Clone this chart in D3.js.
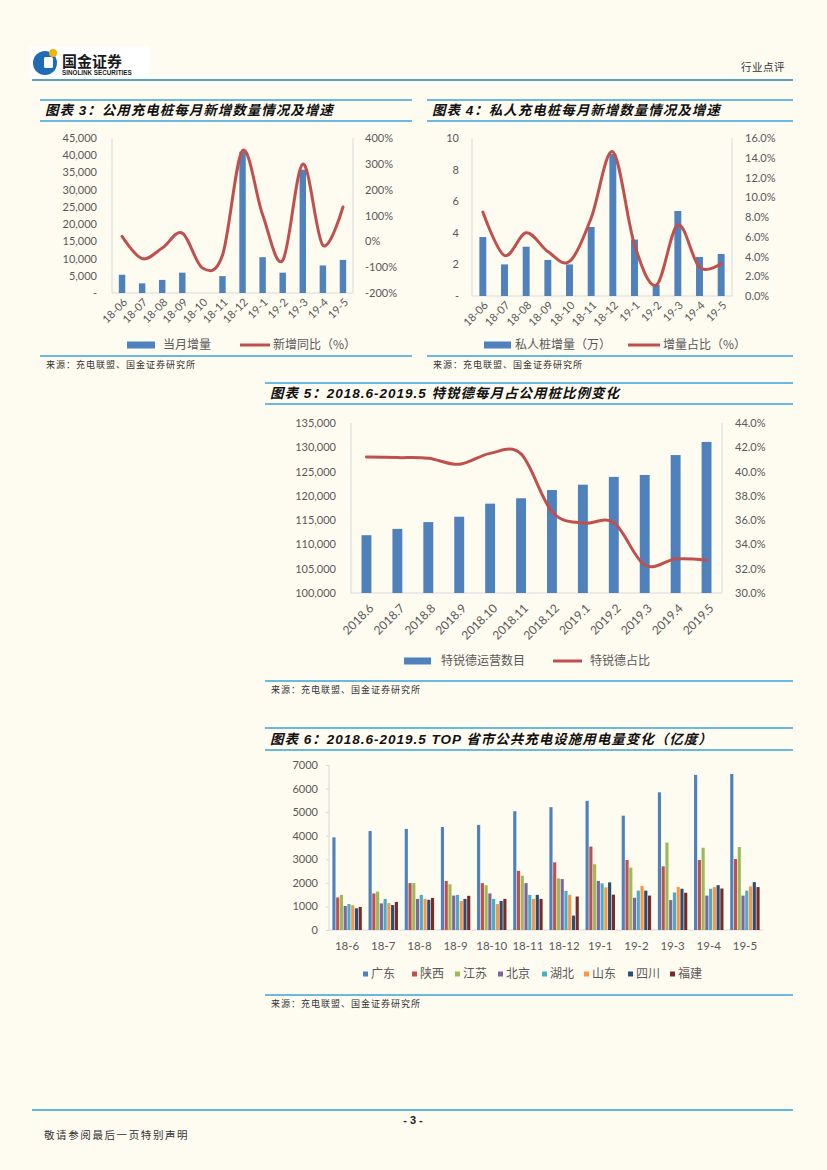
<!DOCTYPE html>
<html>
<head>
<meta charset="utf-8">
<script src="https://cdn.jsdelivr.net/npm/d3@7"></script>
<style>
  body { margin: 0; background: #fefbf1; }
  svg { display: block; }
  text { font-family: Lato, "Noto Sans CJK SC", sans-serif; }
</style>
</head>
<body>
<div id="page"></div>
<script>
// ---------- data ----------
var months = ["18-06", "18-07", "18-08", "18-09", "18-10", "18-11", "18-12", "19-1", "19-2", "19-3", "19-4", "19-5"];
var monthsShort = ["18-6", "18-7", "18-8", "18-9", "18-10", "18-11", "18-12", "19-1", "19-2", "19-3", "19-4", "19-5"];
var monthsLong = ["2018.6", "2018.7", "2018.8", "2018.9", "2018.10", "2018.11", "2018.12", "2019.1", "2019.2", "2019.3", "2019.4", "2019.5"];

// chart 3: public piles
var publicNew = [5300, 2800, 3800, 5900, 0, 4900, 41000, 10400, 5900, 35800, 8000, 9600];
var publicYoY = [19, -67, -26, 32, -103, -54, 351, 103, -74, 299, -15, 133];
var ticks3L = [0, 5000, 10000, 15000, 20000, 25000, 30000, 35000, 40000, 45000];
var ticks3R = [-200, -100, 0, 100, 200, 300, 400];

// chart 4: private piles (10k)
var privateNew = [3.73, 2.0, 3.12, 2.28, 2.0, 4.37, 9.0, 3.57, 0.7, 5.38, 2.47, 2.66];
var privateShare = [8.5, 4.1, 6.4, 4.5, 3.5, 7.9, 14.6, 5.2, 1.1, 7.2, 2.9, 3.3];
var ticks4L = [0, 2, 4, 6, 8, 10];
var ticks4R = [0, 2, 4, 6, 8, 10, 12, 14, 16];

// chart 5: TELD
var teldCount = [111900, 113200, 114600, 115700, 118400, 119500, 121200, 122300, 123900, 124300, 128400, 131100];
var teldShare = [41.2, 41.15, 41.1, 40.6, 41.5, 41.45, 36.7, 35.75, 35.8, 32.3, 32.8, 32.7];
var ticks5L = [100000, 105000, 110000, 115000, 120000, 125000, 130000, 135000];
var ticks5R = [30, 32, 34, 36, 38, 40, 42, 44];

// chart 6: power use by province
var provinces = ["广东", "陕西", "江苏", "北京", "湖北", "山东", "四川", "福建"];
var guangdong = [3930, 4200, 4290, 4370, 4460, 5040, 5210, 5480, 4850, 5840, 6580, 6620];
var shaanxi   = [1380, 1550, 1990, 2080, 1990, 2510, 2870, 3540, 2970, 2700, 2970, 3010];
var jiangsu   = [1490, 1630, 1990, 1940, 1900, 2300, 2190, 2790, 2650, 3710, 3490, 3520];
var beijing   = [1020, 1130, 1320, 1460, 1550, 1990, 2160, 2080, 1370, 1270, 1460, 1460];
var hubei     = [1100, 1320, 1490, 1490, 1320, 1490, 1660, 1980, 1670, 1590, 1750, 1670];
var shandong  = [1050, 1140, 1320, 1230, 1100, 1320, 1490, 1810, 1870, 1820, 1820, 1850];
var sichuan   = [920, 1060, 1280, 1320, 1230, 1490, 610, 2020, 1670, 1750, 1900, 2030];
var fujian    = [980, 1190, 1360, 1450, 1320, 1320, 1420, 1500, 1460, 1580, 1760, 1820];
var ticks6 = [0, 1000, 2000, 3000, 4000, 5000, 6000, 7000];

var BLUE = "#4f81bd", RED = "#c0504d", GRAY = "#595959", AXIS = "#d9d9d9", RULE = "#3aa3da";
var provColors = ["#4f81bd", "#c0504d", "#9bbb59", "#8064a2", "#4bacc6", "#f79646", "#2c4d75", "#772c2a"];

var svg = d3.select("#page").append("svg")
    .attr("width", 827)
    .attr("height", 1170);

svg.append("rect").attr("width", 827).attr("height", 1170).attr("fill", "#fefbf1");

// ---------- header ----------
svg.append("rect").attr("x", 30).attr("y", 46).attr("width", 120).attr("height", 32).attr("fill", "#ffffff");
svg.append("circle").attr("cx", 45).attr("cy", 63).attr("r", 12).attr("fill", "#1e6db4");
svg.append("rect").attr("x", 44).attr("y", 57).attr("width", 9).attr("height", 11).attr("rx", 1.5).attr("fill", "#ffffff");
svg.append("circle").attr("cx", 53).attr("cy", 53).attr("r", 4).attr("fill", "#f4b400");
svg.append("text").attr("x", 62).attr("y", 67).attr("font-size", 15).attr("font-weight", 700)
    .attr("fill", "#1a1a1a").style("font-family", "'Noto Sans CJK SC'").text("国金证券");
svg.append("text").attr("x", 62).attr("y", 75).attr("font-size", 6.3).attr("font-weight", 700)
    .attr("fill", "#1a1a1a").style("font-family", "'Liberation Sans'").text("SINOLINK SECURITIES");
svg.append("text").attr("x", 785).attr("y", 71).attr("text-anchor", "end").attr("font-size", 10.5)
    .attr("letter-spacing", 0.5).attr("fill", "#333").style("font-family", "'Noto Sans CJK SC'").text("行业点评");
svg.append("line").attr("x1", 32).attr("x2", 793).attr("y1", 80).attr("y2", 80)
    .attr("stroke", "#5a9fc6").attr("stroke-width", 2);

// ---------- footer ----------
svg.append("line").attr("x1", 32).attr("x2", 793).attr("y1", 1110).attr("y2", 1110)
    .attr("stroke", "#2d9fe0").attr("stroke-width", 1.5);
svg.append("text").attr("x", 413).attr("y", 1124).attr("text-anchor", "middle").attr("font-size", 11)
    .attr("font-weight", 700).attr("fill", "#222").style("font-family", "'Liberation Sans Narrow','Liberation Sans'").text("- 3 -");
svg.append("text").attr("x", 44).attr("y", 1139).attr("font-size", 10.5).attr("letter-spacing", 1.6)
    .attr("fill", "#333").style("font-family", "'Noto Sans CJK SC'").text("敬请参阅最后一页特别声明");

// ---------- frames: rules, title, source ----------
function frame(x0, x1, yTop, yMid, yBottom, title) {
  svg.append("line").attr("x1", x0).attr("x2", x1).attr("y1", yTop).attr("y2", yTop)
      .attr("stroke", RULE).attr("stroke-width", 1.6);
  svg.append("line").attr("x1", x0).attr("x2", x1).attr("y1", yMid).attr("y2", yMid)
      .attr("stroke", RULE).attr("stroke-width", 1.6);
  svg.append("line").attr("x1", x0).attr("x2", x1).attr("y1", yBottom).attr("y2", yBottom)
      .attr("stroke", RULE).attr("stroke-width", 1.6);
  svg.append("text").attr("x", x0 + 5).attr("y", yMid - 6)
      .attr("font-size", 13.5).attr("font-weight", 700).attr("font-style", "italic")
      .attr("letter-spacing", 1).attr("fill", "#111")
      .style("font-family", "'Liberation Sans','Noto Sans CJK SC'")
      .text(title);
  svg.append("text").attr("x", x0 + 6).attr("y", yBottom + 12)
      .attr("font-size", 9).attr("letter-spacing", 1).attr("fill", "#333")
      .style("font-family", "'Noto Sans CJK SC'")
      .text("来源：充电联盟、国金证券研究所");
}

frame(40, 412, 100, 121, 356, "图表 3：公用充电桩每月新增数量情况及增速");
frame(427, 793, 100, 121, 356, "图表 4：私人充电桩每月新增数量情况及增速");
frame(265, 793, 383, 404, 681, "图表 5：2018.6-2019.5 特锐德每月占公用桩比例变化");
frame(265, 793, 728, 750, 995, "图表 6：2018.6-2019.5 TOP 省市公共充电设施用电量变化（亿度）");

// ---------- bar + line combo ----------
function combo(o) {
  var g = svg.append("g");

  var x = d3.scaleBand().domain(o.cats).range([o.left, o.right])
      .paddingInner(0.68).paddingOuter(0.34);
  var yL = d3.scaleLinear().domain(o.domL).range([o.bottom, o.top]);
  var yR = d3.scaleLinear().domain(o.domR).range([o.bottom, o.top]);

  // axis frame lines
  g.append("line").attr("x1", o.left).attr("x2", o.left).attr("y1", o.top).attr("y2", o.bottom)
      .attr("stroke", AXIS);
  g.append("line").attr("x1", o.right).attr("x2", o.right).attr("y1", o.top).attr("y2", o.bottom)
      .attr("stroke", AXIS);
  g.append("line").attr("x1", o.left).attr("x2", o.right).attr("y1", o.bottom).attr("y2", o.bottom)
      .attr("stroke", AXIS);

  // left axis labels
  var al = g.append("g").attr("transform", "translate(" + o.left + ",0)")
      .call(d3.axisLeft(yL).tickValues(o.ticksL).tickFormat(o.fmtL).tickSize(0).tickPadding(o.left - o.labL));
  var ar = g.append("g").attr("transform", "translate(" + o.right + ",0)")
      .call(d3.axisRight(yR).tickValues(o.ticksR).tickFormat(o.fmtR).tickSize(0).tickPadding(o.labR - o.right));
  [al, ar].forEach(function(a) {
    a.select(".domain").remove();
    a.selectAll("text").attr("font-size", 11).attr("fill", GRAY).style("font-family", "Lato");
  });

  // x labels (rotated)
  var ax = g.append("g").attr("transform", "translate(0," + o.bottom + ")")
      .call(d3.axisBottom(x).tickSize(0));
  ax.select(".domain").remove();
  ax.selectAll("text")
      .attr("font-size", o.xfs).attr("fill", GRAY).style("font-family", "Lato")
      .attr("text-anchor", "end")
      .attr("dy", null).attr("y", 0)
      .attr("transform", "translate(" + o.xdx + "," + o.xdy + ") rotate(-45)");

  // bars
  g.selectAll(".bar").data(o.bars).enter().append("rect")
      .attr("x", function(d, i) { return x(o.cats[i]); })
      .attr("width", x.bandwidth())
      .attr("y", function(d) { return yL(d); })
      .attr("height", function(d) { return yL(o.domL[0]) - yL(d); })
      .attr("fill", BLUE);

  // smooth line
  var line = d3.line()
      .x(function(d, i) { return x(o.cats[i]) + x.bandwidth() / 2; })
      .y(function(d) { return yR(d); })
      .curve(d3.curveCardinal.tension(0));
  g.append("path").datum(o.line).attr("d", line)
      .attr("fill", "none").attr("stroke", RED).attr("stroke-width", 3)
      .attr("stroke-linecap", "round");

  // legend
  var lg = o.legend;
  g.append("rect").attr("x", lg.bx).attr("y", lg.y - 3.5).attr("width", lg.bw).attr("height", 7).attr("fill", BLUE);
  g.append("text").attr("x", lg.btx).attr("y", lg.y).attr("dy", "0.35em").attr("font-size", 12)
      .attr("fill", GRAY).style("font-family", "'Noto Sans CJK SC'").text(lg.bText);
  g.append("line").attr("x1", lg.lx).attr("x2", lg.lx + lg.lw).attr("y1", lg.y).attr("y2", lg.y)
      .attr("stroke", RED).attr("stroke-width", 3);
  g.append("text").attr("x", lg.ltx).attr("y", lg.y).attr("dy", "0.35em").attr("font-size", 12)
      .attr("fill", GRAY).style("font-family", "'Noto Sans CJK SC'").text(lg.lText);
}

var dashZero = function(f) { return function(d) { return d === 0 ? "-" : f(d); }; };

combo({
  cats: months, bars: publicNew, line: publicYoY,
  left: 112, right: 353, top: 138, bottom: 293,
  domL: [0, 45000], domR: [-200, 400], ticksL: ticks3L, ticksR: ticks3R,
  fmtL: dashZero(d3.format(",")), fmtR: function(d) { return d + "%"; },
  labL: 97, labR: 365, xdx: 6, xdy: 10, xfs: 11,
  legend: { y: 345, bx: 127, bw: 28, btx: 163, bText: "当月增量", lx: 240, lw: 30, ltx: 273, lText: "新增同比（%）" }
});

combo({
  cats: months, bars: privateNew, line: privateShare,
  left: 472, right: 732, top: 138, bottom: 296,
  domL: [0, 10], domR: [0, 16], ticksL: ticks4L, ticksR: ticks4R,
  fmtL: dashZero(d3.format("d")), fmtR: function(d) { return d.toFixed(1) + "%"; },
  labL: 459, labR: 745, xdx: 6, xdy: 10, xfs: 11,
  legend: { y: 345, bx: 484, bw: 27, btx: 515, bText: "私人桩增量（万）", lx: 628, lw: 32, ltx: 663, lText: "增量占比（%）" }
});

combo({
  cats: monthsLong, bars: teldCount, line: teldShare,
  left: 351, right: 722, top: 423, bottom: 593,
  domL: [100000, 135000], domR: [30, 44], ticksL: ticks5L, ticksR: ticks5R,
  fmtL: d3.format(","), fmtR: function(d) { return d.toFixed(1) + "%"; },
  labL: 336, labR: 735, xdx: 8, xdy: 16, xfs: 12,
  legend: { y: 661, bx: 404, bw: 27, btx: 441, bText: "特锐德运营数目", lx: 553, lw: 29, ltx: 590, lText: "特锐德占比" }
});

// ---------- chart 6: grouped bars ----------
var series6 = [guangdong, shaanxi, jiangsu, beijing, hubei, shandong, sichuan, fujian];
var g6 = svg.append("g");
var x6 = d3.scaleBand().domain(monthsShort).range([329, 763]).paddingInner(0.17).paddingOuter(0.085);
var x6s = d3.scaleBand().domain(d3.range(provinces.length)).range([0, x6.bandwidth()]);
var y6 = d3.scaleLinear().domain([0, 7000]).range([930, 765]);

g6.append("line").attr("x1", 329).attr("x2", 329).attr("y1", 765).attr("y2", 930).attr("stroke", AXIS);
g6.append("line").attr("x1", 329).attr("x2", 763).attr("y1", 930).attr("y2", 930).attr("stroke", AXIS);

var a6 = g6.append("g").attr("transform", "translate(329,0)")
    .call(d3.axisLeft(y6).tickValues(ticks6).tickFormat(d3.format("d")).tickSize(3).tickPadding(8));
a6.select(".domain").remove();
a6.selectAll("line").attr("stroke", AXIS);
a6.selectAll("text").attr("font-size", 11).attr("fill", GRAY).style("font-family", "Lato");

var b6 = g6.append("g").attr("transform", "translate(0,930)")
    .call(d3.axisBottom(x6).tickSize(0).tickPadding(12));
b6.select(".domain").remove();
b6.selectAll("text").attr("font-size", 11.5).attr("fill", GRAY).style("font-family", "Lato");

series6.forEach(function(vals, s) {
  g6.selectAll(".s" + s).data(vals).enter().append("rect")
      .attr("x", function(d, i) { return x6(monthsShort[i]) + x6s(s) + 0.3; })
      .attr("width", x6s.bandwidth() - 0.6)
      .attr("y", function(d) { return y6(d); })
      .attr("height", function(d) { return 930 - y6(d); })
      .attr("fill", provColors[s]);
});

// legend chart 6
var leg6x = [363, 412, 455, 498, 542, 584, 628, 670];
provinces.forEach(function(p, i) {
  g6.append("rect").attr("x", leg6x[i]).attr("y", 971.5).attr("width", 5).attr("height", 5).attr("fill", provColors[i]);
  g6.append("text").attr("x", leg6x[i] + 8).attr("y", 974).attr("dy", "0.35em").attr("font-size", 12)
      .attr("fill", GRAY).style("font-family", "'Noto Sans CJK SC'").text(p);
});
</script>
</body>
</html>
